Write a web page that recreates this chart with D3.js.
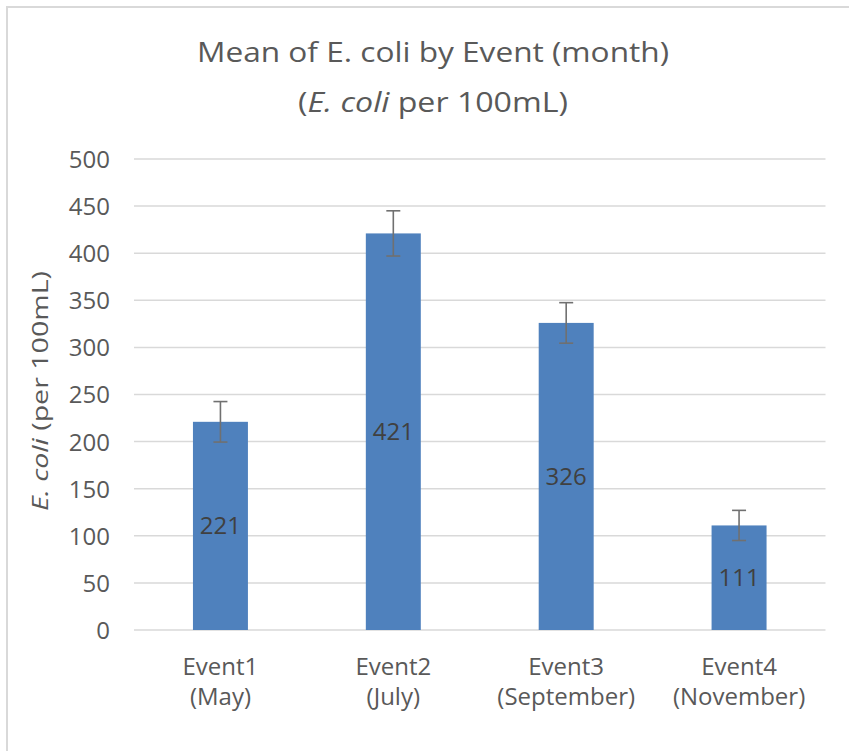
<!DOCTYPE html>
<html>
<head>
<meta charset="utf-8">
<script src="https://cdn.jsdelivr.net/npm/d3@7"></script>
<style>
  html, body { margin: 0; padding: 0; background: #fff; }
  svg { display: block; font-family: "Open Sans", sans-serif; }
</style>
</head>
<body>
<svg id="chart" width="849" height="751"></svg>
<script>
// ---- data ----
const categories = ["Event1", "Event2", "Event3", "Event4"];
const months = ["(May)", "(July)", "(September)", "(November)"];
const meanValues = [221, 421, 326, 111];
const errorValues = [21.5, 24, 21.5, 16];
const yTicks = [0, 50, 100, 150, 200, 250, 300, 350, 400, 450, 500];

const svg = d3.select("#chart");
const W = 849, H = 751;
const plot = { left: 134, right: 825.5, top: 159, bottom: 630 };
const textColor = "#595959";
const gridColor = "#d9d9d9";

// frame (chart area border, partly cut off)
svg.append("line").attr("x1", 7).attr("x2", 7).attr("y1", 6).attr("y2", H)
  .attr("stroke", gridColor).attr("stroke-width", 2);
svg.append("line").attr("x1", 6).attr("x2", W).attr("y1", 7).attr("y2", 7)
  .attr("stroke", gridColor).attr("stroke-width", 2);

const x = d3.scaleBand().domain(categories)
  .range([plot.left, plot.right]).paddingInner(0.682).paddingOuter(0.341);
const y = d3.scaleLinear().domain([0, 500]).range([plot.bottom, plot.top]);

// gridlines
svg.append("g").selectAll("line").data(yTicks).join("line")
  .attr("x1", plot.left).attr("x2", plot.right)
  .attr("y1", d => y(d)).attr("y2", d => y(d))
  .attr("stroke", gridColor).attr("stroke-width", 1.5);

// y tick labels via axis
const yAxis = svg.append("g").attr("transform", `translate(${110},0)`)
  .call(d3.axisLeft(y).tickValues(yTicks).tickSize(0).tickPadding(0));
yAxis.select(".domain").remove();
yAxis.selectAll("text").attr("font-size", 24).attr("fill", textColor)
  .attr("font-family", "'Open Sans', sans-serif").attr("dy", "0.35em").attr("x", 0);

// bars
const data = categories.map((c, i) => ({ c, m: months[i], v: meanValues[i], e: errorValues[i] }));
svg.append("g").selectAll("rect").data(data).join("rect")
  .attr("x", d => x(d.c)).attr("width", x.bandwidth())
  .attr("y", d => y(d.v)).attr("height", d => y(0) - y(d.v))
  .attr("fill", "#4f81bd");

// error bars
const eb = svg.append("g").attr("stroke", "#707070").attr("stroke-width", 1.6);
data.forEach(d => {
  const cx = x(d.c) + x.bandwidth() / 2;
  eb.append("line").attr("x1", cx).attr("x2", cx).attr("y1", y(d.v + d.e)).attr("y2", y(d.v - d.e));
  eb.append("line").attr("x1", cx - 7).attr("x2", cx + 7).attr("y1", y(d.v + d.e)).attr("y2", y(d.v + d.e));
  eb.append("line").attr("x1", cx - 7).attr("x2", cx + 7).attr("y1", y(d.v - d.e)).attr("y2", y(d.v - d.e));
});

// data labels
svg.append("g").selectAll("text").data(data).join("text")
  .attr("x", d => x(d.c) + x.bandwidth() / 2)
  .attr("y", d => (y(d.v) + y(0)) / 2 + 8.5)
  .attr("text-anchor", "middle").attr("font-size", 24).attr("fill", "#404040")
  .text(d => d.v);

// x category labels
const xl = svg.append("g").selectAll("text").data(data).join("text")
  .attr("text-anchor", "middle").attr("font-size", 24).attr("fill", textColor);
xl.append("tspan").attr("x", d => x(d.c) + x.bandwidth() / 2).attr("y", 675).text(d => d.c);
xl.append("tspan").attr("x", d => x(d.c) + x.bandwidth() / 2).attr("y", 705).text(d => d.m);

// title
svg.append("text").attr("x", 433).attr("y", 61.5).attr("text-anchor", "middle")
  .attr("font-size", 28).attr("fill", textColor)
  .attr("textLength", 472).attr("lengthAdjust", "spacingAndGlyphs")
  .text("Mean of E. coli by Event (month)");
const t2 = svg.append("text").attr("x", 433).attr("y", 111.5).attr("text-anchor", "middle")
  .attr("font-size", 28).attr("fill", textColor)
  .attr("textLength", 270).attr("lengthAdjust", "spacingAndGlyphs");
t2.append("tspan").text("(");
t2.append("tspan").attr("font-style", "italic").text("E. coli");
t2.append("tspan").text(" per 100mL)");

// y axis title
const yt = svg.append("text").attr("transform", "translate(48,391) rotate(-90)")
  .attr("text-anchor", "middle").attr("font-size", 21).attr("fill", textColor)
  .attr("textLength", 240).attr("lengthAdjust", "spacingAndGlyphs");
yt.append("tspan").attr("font-style", "italic").text("E. coli");
yt.append("tspan").text(" (per 100mL)");
</script>
</body>
</html>
